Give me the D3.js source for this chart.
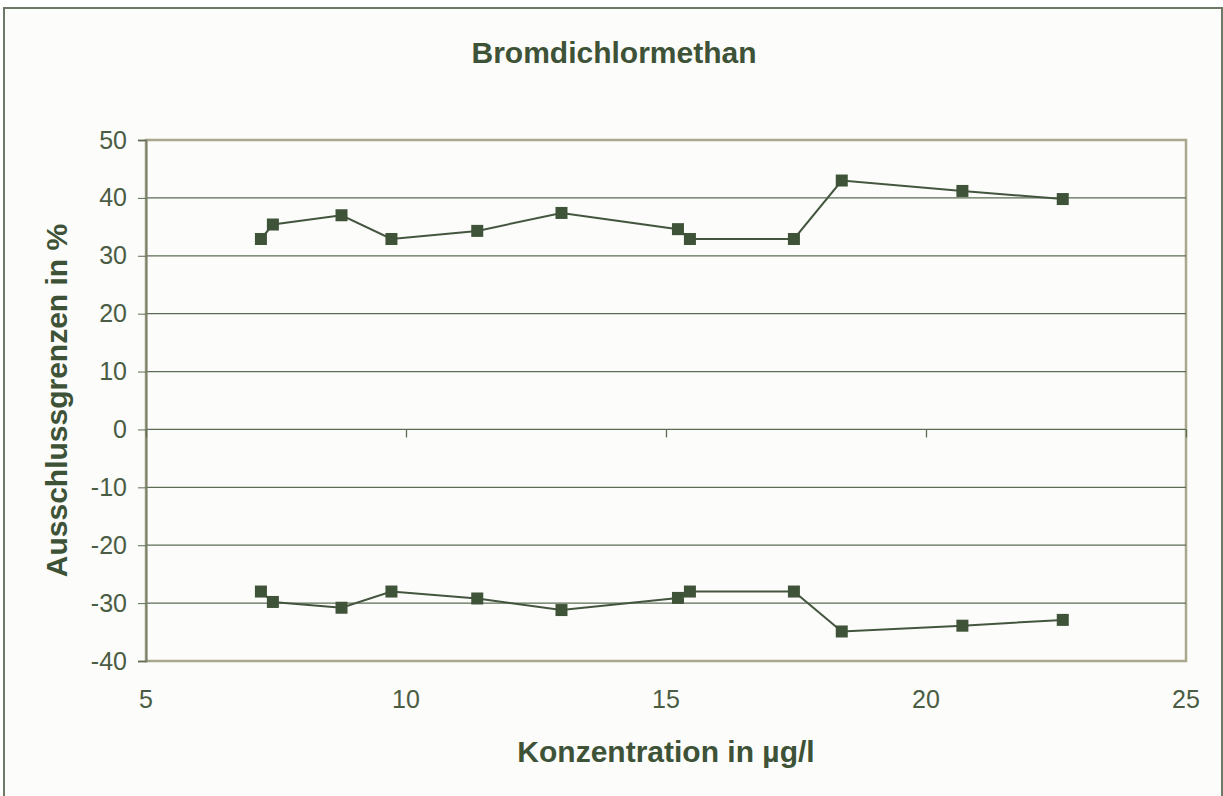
<!DOCTYPE html>
<html>
<head>
<meta charset="utf-8">
<script src="https://cdn.jsdelivr.net/npm/d3@7"></script>
<style>
  body { margin: 0; background: #ffffff; }
  svg { display: block; }
</style>
</head>
<body>
<div id="chart_div"></div>
<script>
// concentration (µg/l) and exclusion limits (%)
const concentration = [7.21, 7.44, 8.76, 9.72, 11.37, 12.99, 15.23, 15.46, 17.46, 18.38, 20.70, 22.63];
const upperLimit = [32.9, 35.4, 37.0, 32.9, 34.3, 37.4, 34.6, 32.9, 32.9, 43.0, 41.2, 39.8];
const lowerLimit = [-28.0, -29.8, -30.8, -28.0, -29.2, -31.2, -29.1, -28.0, -28.0, -34.9, -33.9, -32.9];

const xTicks = [5, 10, 15, 20, 25];
const yTicks = [50, 40, 30, 20, 10, 0, -10, -20, -30, -40];

const chartTitle = "Bromdichlormethan";
const xTitle = "Konzentration in µg/l";
const yTitle = "Ausschlussgrenzen in %";

const width = 1223, height = 796;
const margin = {top: 140, right: 37, bottom: 135, left: 146};
const plotW = width - margin.left - margin.right;
const plotH = height - margin.top - margin.bottom;

const ink = "#3d5236";
const fontFam = "Liberation Sans, Arial, sans-serif";

const svg = d3.select("#chart_div")
    .append("svg")
    .attr("width", width)
    .attr("height", height);

// chart background + outer frame
svg.append("rect")
    .attr("x", 4).attr("y", 8)
    .attr("width", width - 5).attr("height", height + 10)
    .attr("fill", "#fcfcfa")
    .attr("stroke", "#6d7866")
    .attr("stroke-width", 2);

const g = svg.append("g")
    .attr("transform", "translate(" + margin.left + "," + margin.top + ")");

let xScale = d3.scaleLinear().domain([5, 25]).range([0, plotW]);
let yScale = d3.scaleLinear().domain([-40, 50]).range([plotH, 0]);

// plot frame (khaki)
g.append("rect")
    .attr("width", plotW).attr("height", plotH)
    .attr("fill", "#fcfcfa")
    .attr("stroke", "#a9a88c")
    .attr("stroke-width", 2.5);

// gridlines
g.append("g")
    .selectAll("line")
    .data(yTicks.filter(d => d !== 50 && d !== -40))
    .join("line")
    .attr("x1", 0).attr("x2", plotW)
    .attr("y1", d => yScale(d)).attr("y2", d => yScale(d))
    .attr("stroke", "#5d6d55")
    .attr("stroke-width", 1.3);

// y axis
const yAxis = g.append("g")
    .call(d3.axisLeft(yScale).tickValues(yTicks).tickSize(8).tickPadding(11).tickFormat(d => String(d)));
yAxis.select(".domain").attr("stroke", "#7c806b").attr("stroke-width", 2);
yAxis.selectAll(".tick line").attr("stroke", "#5d6d55");
yAxis.selectAll("text")
    .attr("fill", "#4a5c43")
    .style("font-family", fontFam)
    .style("font-size", "25px");

// x axis crossing at 0, labels at the bottom
const xAxis = g.append("g")
    .attr("transform", "translate(0," + yScale(0) + ")")
    .call(d3.axisBottom(xScale).tickValues(xTicks).tickSize(8).tickFormat(""));
xAxis.select(".domain").remove();
xAxis.selectAll(".tick line").attr("stroke", "#5d6d55").attr("stroke-width", 1.3);

g.append("g")
    .selectAll("text")
    .data(xTicks)
    .join("text")
    .attr("x", d => xScale(d))
    .attr("y", plotH + 47)
    .attr("text-anchor", "middle")
    .attr("fill", "#4a5c43")
    .style("font-family", fontFam)
    .style("font-size", "25px")
    .text(d => d);

// series
const series = [upperLimit, lowerLimit];
const line = d3.line()
    .x((d, i) => xScale(concentration[i]))
    .y(d => yScale(d));

series.forEach(vals => {
    g.append("path")
        .datum(vals)
        .attr("fill", "none")
        .attr("stroke", "#44553f")
        .attr("stroke-width", 2)
        .attr("d", line);

    g.append("g")
        .selectAll("rect")
        .data(vals)
        .join("rect")
        .attr("x", (d, i) => xScale(concentration[i]) - 6)
        .attr("y", d => yScale(d) - 6)
        .attr("width", 12).attr("height", 12)
        .attr("fill", "#3f5339");
});

// titles
function boldLabel(sel) {
    sel.attr("text-anchor", "middle")
        .attr("fill", ink)
        .style("font-family", fontFam)
        .style("font-weight", "bold")
        .style("font-size", "30px");
}

svg.append("text")
    .attr("x", 614).attr("y", 63)
    .call(boldLabel)
    .text(chartTitle);

svg.append("text")
    .attr("x", margin.left + plotW / 2).attr("y", 762)
    .call(boldLabel)
    .text(xTitle);

svg.append("text")
    .attr("transform", "translate(67," + (margin.top + plotH / 2) + ") rotate(-90)")
    .call(boldLabel)
    .text(yTitle);
</script>
</body>
</html>
